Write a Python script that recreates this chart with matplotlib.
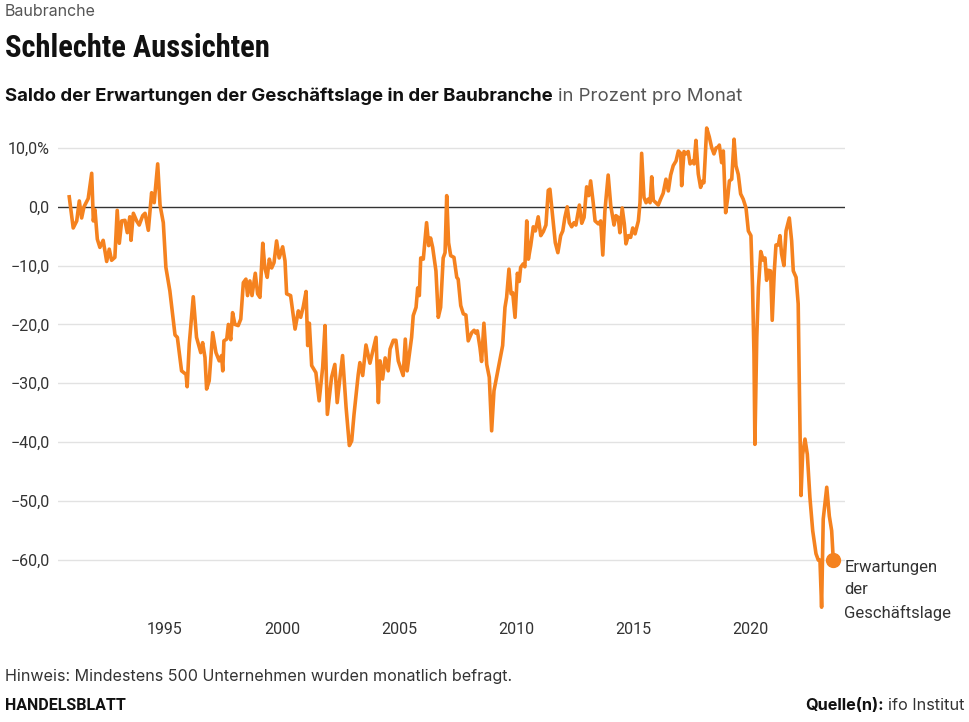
import matplotlib
matplotlib.use('Agg')
import matplotlib.pyplot as plt

# ifo Geschäftserwartungen Bauhauptgewerbe, Saldo in Prozent
years = [
	1990.91, 1991.08, 1991.23, 1991.34, 1991.44, 1991.54, 1991.72, 1991.87, 1991.94, 1992.01,
	1992.11, 1992.22, 1992.36, 1992.51, 1992.62, 1992.72, 1992.86, 1992.96, 1993.05, 1993.15,
	1993.29, 1993.39, 1993.50, 1993.55, 1993.65, 1993.79, 1993.90, 1994.05, 1994.15, 1994.29,
	1994.43, 1994.54, 1994.69, 1994.79, 1994.93, 1995.04, 1995.21, 1995.43, 1995.53, 1995.71,
	1995.90, 1995.95, 1996.04, 1996.21, 1996.35, 1996.53, 1996.61, 1996.71, 1996.78, 1996.89,
	1997.04, 1997.18, 1997.32, 1997.42, 1997.47, 1997.52, 1997.64, 1997.71, 1997.81, 1997.89,
	1997.99, 1998.13, 1998.24, 1998.35, 1998.46, 1998.53, 1998.63, 1998.72, 1998.86, 1998.96,
	1999.06, 1999.18, 1999.27, 1999.37, 1999.46, 1999.56, 1999.66, 1999.77, 1999.88, 2000.03,
	2000.13, 2000.20, 2000.37, 2000.56, 2000.70, 2000.80, 2000.91, 2001.03, 2001.10, 2001.17,
	2001.27, 2001.45, 2001.59, 2001.74, 2001.84, 2001.94, 2002.12, 2002.26, 2002.36, 2002.48,
	2002.59, 2002.74, 2002.88, 2002.98, 2003.08, 2003.26, 2003.33, 2003.45, 2003.59, 2003.76,
	2004.02, 2004.12, 2004.19, 2004.30, 2004.41, 2004.54, 2004.62, 2004.76, 2004.87, 2004.97,
	2005.18, 2005.27, 2005.35, 2005.54, 2005.61, 2005.73, 2005.80, 2005.87, 2005.93, 2006.04,
	2006.18, 2006.27, 2006.35, 2006.44, 2006.58, 2006.68, 2006.78, 2006.89, 2006.97, 2007.04,
	2007.12, 2007.21, 2007.35, 2007.47, 2007.53, 2007.64, 2007.75, 2007.86, 2007.96, 2008.11,
	2008.21, 2008.29, 2008.35, 2008.46, 2008.53, 2008.63, 2008.75, 2008.86, 2008.96, 2009.06,
	2009.24, 2009.43, 2009.53, 2009.60, 2009.70, 2009.79, 2009.86, 2009.96, 2010.06, 2010.14,
	2010.20, 2010.31, 2010.38, 2010.46, 2010.53, 2010.63, 2010.74, 2010.83, 2010.95, 2011.06,
	2011.17, 2011.28, 2011.38, 2011.45, 2011.57, 2011.68, 2011.79, 2011.91, 2012.00, 2012.09,
	2012.19, 2012.28, 2012.38, 2012.48, 2012.56, 2012.71, 2012.81, 2012.91, 2013.02, 2013.11,
	2013.19, 2013.30, 2013.38, 2013.52, 2013.62, 2013.71, 2013.80, 2013.94, 2014.05, 2014.19,
	2014.27, 2014.37, 2014.44, 2014.54, 2014.63, 2014.70, 2014.80, 2014.90, 2014.99, 2015.09,
	2015.23, 2015.30, 2015.37, 2015.47, 2015.56, 2015.65, 2015.73, 2015.80, 2015.87, 2015.98,
	2016.08, 2016.18, 2016.29, 2016.41, 2016.51, 2016.61, 2016.72, 2016.84, 2016.94, 2017.04,
	2017.08, 2017.18, 2017.26, 2017.36, 2017.44, 2017.55, 2017.61, 2017.69, 2017.79, 2017.89,
	2017.98, 2018.03, 2018.15, 2018.26, 2018.36, 2018.46, 2018.55, 2018.65, 2018.69, 2018.79,
	2018.86, 2018.96, 2019.05, 2019.12, 2019.22, 2019.32, 2019.40, 2019.50, 2019.60, 2019.71,
	2019.83, 2019.93, 2020.04, 2020.11, 2020.17, 2020.21, 2020.29, 2020.36, 2020.46, 2020.57,
	2020.64, 2020.71, 2020.78, 2020.88, 2020.95, 2021.04, 2021.11, 2021.21, 2021.28, 2021.35,
	2021.45, 2021.54, 2021.68, 2021.78, 2021.85, 2021.97, 2022.06, 2022.11, 2022.18, 2022.25,
	2022.35, 2022.45, 2022.56, 2022.68, 2022.82, 2022.92, 2022.99, 2023.06, 2023.13, 2023.28,
	2023.39, 2023.49, 2023.56,
]
saldo = [
	1.7, -3.6, -2.4, 1.0, -1.9, 0.0, 1.4, 5.7, -2.4, -0.5,
	-5.5, -6.9, -5.7, -9.3, -7.2, -9.1, -8.6, -0.6, -6.2, -2.4,
	-2.3, -4.4, -1.7, -5.7, -1.1, -2.4, -3.1, -1.5, -1.1, -4.0,
	2.4, 0.7, 7.3, 0.3, -2.7, -10.3, -14.3, -21.8, -22.2, -27.9,
	-28.5, -30.6, -23.3, -15.3, -22.2, -24.8, -23.1, -25.6, -31.0, -29.6,
	-21.4, -24.8, -26.2, -25.3, -27.9, -22.8, -22.5, -20.0, -22.6, -18.0,
	-20.0, -20.2, -19.1, -12.9, -12.3, -15.1, -12.6, -15.1, -11.3, -14.8,
	-15.4, -6.2, -10.4, -12.0, -8.9, -10.4, -9.5, -5.8, -8.7, -6.8,
	-9.2, -14.8, -15.1, -20.8, -17.7, -18.8, -17.0, -14.4, -23.6, -19.8,
	-27.0, -28.2, -33.0, -27.3, -20.2, -35.3, -29.0, -26.8, -33.3, -29.0,
	-25.3, -34.1, -40.6, -39.8, -35.3, -28.5, -26.5, -28.7, -23.5, -26.6,
	-22.2, -33.3, -26.2, -29.3, -25.7, -27.9, -24.2, -22.7, -22.7, -26.2,
	-28.7, -22.5, -27.9, -22.2, -18.5, -17.1, -13.8, -15.1, -8.7, -8.9,
	-2.7, -6.6, -5.3, -6.9, -10.9, -18.8, -17.1, -8.7, -7.8, 1.9,
	-6.1, -8.3, -8.6, -12.0, -12.3, -16.8, -18.2, -18.4, -22.8, -21.4,
	-21.0, -21.5, -21.1, -23.9, -26.3, -19.8, -26.8, -29.0, -38.1, -31.3,
	-27.6, -23.6, -17.1, -15.4, -10.6, -14.8, -14.6, -18.8, -11.3, -12.7,
	-10.3, -9.7, -10.2, -2.4, -8.9, -6.6, -3.4, -4.1, -1.7, -4.9,
	-4.2, -3.1, 2.8, 3.0, -1.8, -6.1, -7.8, -4.9, -4.1, -1.8,
	0.0, -2.7, -3.4, -2.7, -3.1, 0.3, -2.8, -1.8, 3.4, 1.9,
	4.4, 0.7, -2.4, -2.9, -2.4, -8.2, -0.7, 5.4, 0.2, -3.1,
	-1.5, -1.8, -4.4, -0.2, -2.9, -6.3, -4.9, -5.2, -3.6, -4.6,
	-2.4, 0.7, 9.1, 1.6, 0.7, 1.3, 0.7, 5.1, 1.1, 0.7,
	0.3, 1.3, 2.3, 4.7, 2.7, 5.4, 7.0, 7.8, 9.5, 9.1,
	3.6, 9.4, 9.0, 9.4, 7.3, 7.8, 7.3, 11.3, 5.6, 3.3,
	4.4, 4.1, 13.4, 11.9, 10.1, 9.0, 10.0, 10.2, 10.5, 7.5,
	9.5, -1.0, 1.6, 4.4, 4.7, 11.5, 7.0, 5.5, 2.2, 1.3,
	-0.2, -4.1, -4.9, -13.7, -25.0, -40.4, -22.2, -13.7, -7.6, -9.1,
	-8.7, -12.5, -10.8, -10.9, -19.3, -10.9, -6.5, -6.5, -4.9, -8.0,
	-10.0, -4.1, -1.9, -5.8, -10.9, -12.0, -16.5, -30.7, -49.1, -42.1,
	-39.5, -42.1, -49.4, -55.1, -59.0, -60.1, -60.1, -68.1, -53.1, -47.7,
	-52.6, -55.1, -60.1,
]

tick_years = [1995, 2000, 2005, 2010, 2015, 2020]
y_ticks = [-60, -50, -40, -30, -20, -10, 0, 10]
y_labels = ['\u221260,0', '\u221250,0', '\u221240,0', '\u221230,0', '\u221220,0', '\u221210,0', '0,0', '10,0%']

ORANGE = '#f5821f'
W, H = 970, 722
BODY = ['Inter', 'Roboto', 'DejaVu Sans']

plt.rcParams['font.family'] = ['Roboto', 'DejaVu Sans']

def fy(py):
	return 1 - py / H

fig = plt.figure(figsize=(9.7, 7.22), dpi=100)
ax = fig.add_axes([58 / W, fy(612.5), (845 - 58) / W, (612.5 - 124.5) / H])

for v in y_ticks:
	if v == 0:
		continue
	ax.axhline(v, color='#e2e2e2', lw=1, zorder=1)
ax.axhline(0, color='#333333', lw=1, zorder=2)

ax.plot(years, saldo, color=ORANGE, lw=2.6, solid_joinstyle='round', zorder=3)
ax.plot(years[-1], saldo[-1], 'o', color=ORANGE, ms=10, zorder=4)
ax.annotate('Erwartungen\nder\nGeschäftslage', xy=(years[-1], saldo[-1]), xytext=(8, 0),
	textcoords='offset points', ha='left', va='top', fontsize=12, color='#333333',
	linespacing=1.6, annotation_clip=False)

ax.set_xlim(1990.43, 2024.06)
ax.set_ylim(-69, 14)
ax.set_xticks(tick_years)
ax.set_xticklabels([str(t) for t in tick_years])
ax.set_yticks(y_ticks)
ax.set_yticklabels(y_labels)
ax.tick_params(axis='both', length=0, labelsize=11.5, labelcolor='#333333')
ax.tick_params(axis='y', pad=6)
ax.tick_params(axis='x', pad=7)
for s in ax.spines.values():
	s.set_visible(False)

fig.text(5 / W, fy(12), 'Baubranche', fontsize=11.5, color='#555555', va='center', family=BODY)
fig.text(5 / W, fy(48), 'Schlechte Aussichten', fontsize=22, fontweight='bold', va='center',
	family=['Liberation Sans Narrow', 'Roboto Condensed', 'Roboto'], color='#111111')
t1 = fig.text(5 / W, fy(96), 'Saldo der Erwartungen der Geschäftslage in der Baubranche',
	fontsize=13.4, fontweight='bold', va='center', color='#111111', family=BODY)
ax.annotate('in Prozent pro Monat', xy=(1, 0), xycoords=t1, xytext=(4, 0), textcoords='offset points',
	fontsize=13.4, color='#555555', va='bottom', ha='left', annotation_clip=False, family=BODY)

fig.text(5 / W, fy(676), 'Hinweis: Mindestens 500 Unternehmen wurden monatlich befragt.',
	fontsize=11.6, color='#333333', va='center', family=BODY)
fig.text(5 / W, fy(706), 'HANDELSBLATT', fontsize=11.5, fontweight='bold', color='#111111', va='center')
t2 = fig.text(965 / W, fy(706), 'ifo Institut', fontsize=11.7, color='#333333', va='center', ha='right',
	family=BODY)
ax.annotate('Quelle(n):', xy=(0, 0), xycoords=t2, xytext=(-3, 0), textcoords='offset points',
	fontsize=11.7, fontweight='bold', color='#111111', va='bottom', ha='right', annotation_clip=False,
	family=BODY)

fig.savefig('out.png', dpi=100)
